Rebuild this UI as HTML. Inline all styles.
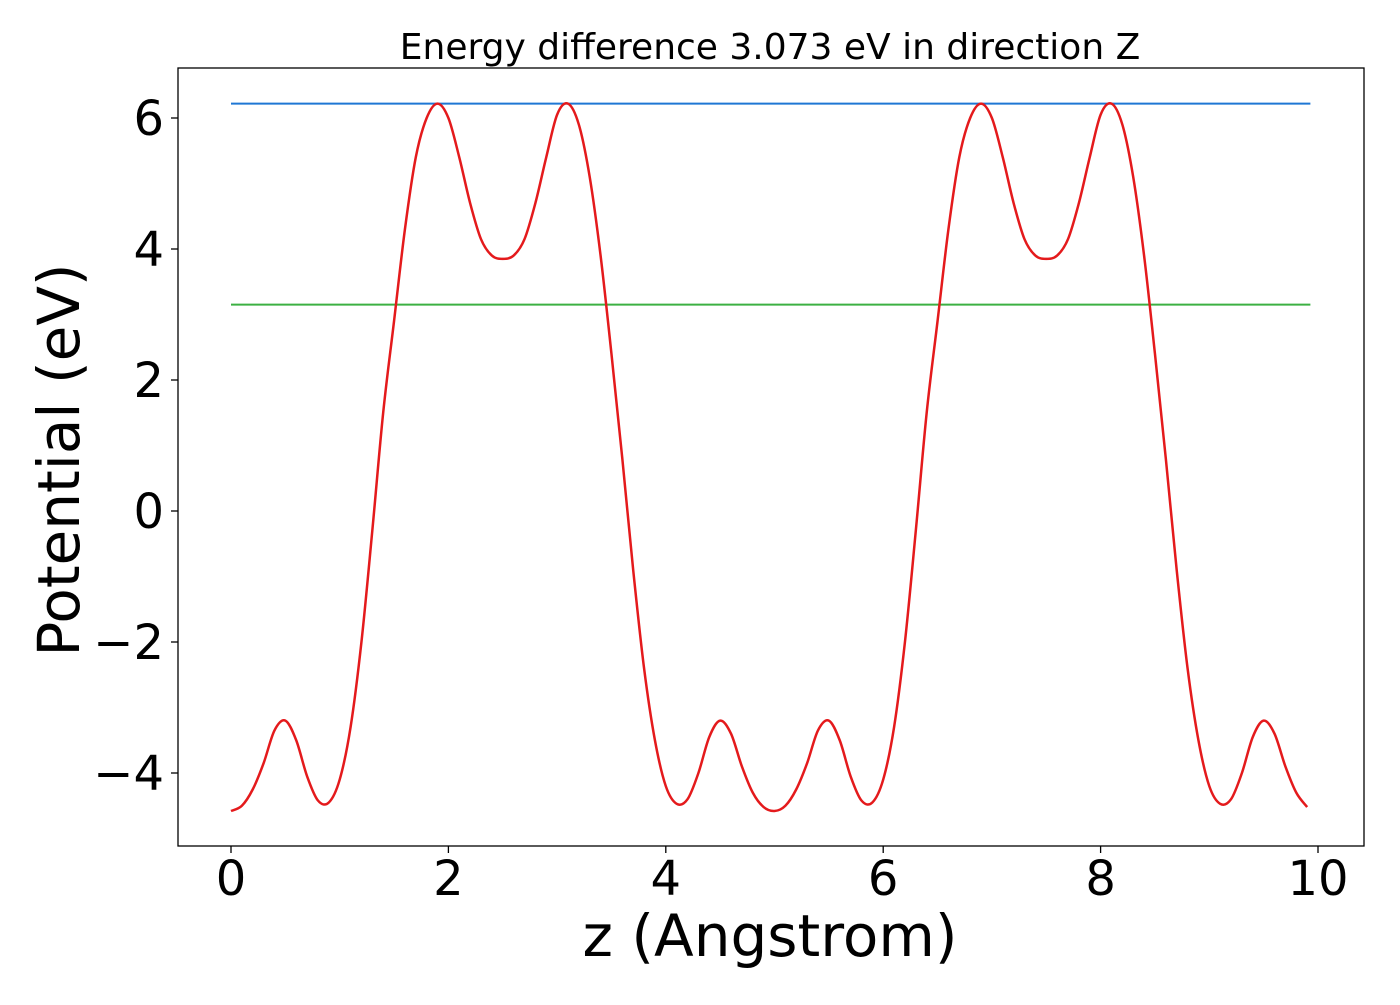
<!DOCTYPE html>
<html><head><meta charset="utf-8"><style>
body{margin:0;background:#fff;}
svg text{font-family:"DejaVu Sans","Liberation Sans",sans-serif;fill:#000;}
</style></head><body>
<svg width="1400" height="1000" id="chart" xmlns="http://www.w3.org/2000/svg">
<text x="770" y="59" font-size="36" text-anchor="middle">Energy difference 3.073 eV in direction Z</text>
<rect x="178" y="68" width="1186" height="778" fill="none" stroke="#000" stroke-width="1.3"/>
<g id="xticks"></g><g id="yticks"></g>
<g id="series"></g>
<text x="770" y="956" font-size="58" text-anchor="middle">z (Angstrom)</text>
<text transform="translate(79,460) rotate(-90)" font-size="58" text-anchor="middle">Potential (eV)</text>
</svg>
<script>
const xTicks=[0,2,4,6,8,10];
const yTicks=[-4,-2,0,2,4,6];
const zValues=[];for(let i=0;i<100;i++)zValues.push(+(i*0.1).toFixed(1));
const potential=[-4.58,-4.5,-4.25,-3.85,-3.35,-3.2,-3.5,-4.05,-4.42,-4.45,-4.1,-3.3,-2.0,-0.3,1.5,2.9,4.3,5.4,6.0,6.22,6.0,5.4,4.7,4.15,3.9,3.85,3.9,4.15,4.7,5.4,6.05,6.22,5.9,5.1,3.9,2.4,0.8,-0.9,-2.4,-3.5,-4.2,-4.47,-4.4,-4.0,-3.45,-3.2,-3.4,-3.9,-4.3,-4.52,
-4.58,-4.5,-4.25,-3.85,-3.35,-3.2,-3.5,-4.05,-4.42,-4.45,-4.1,-3.3,-2.0,-0.3,1.5,2.9,4.3,5.4,6.0,6.22,6.0,5.4,4.7,4.15,3.9,3.85,3.9,4.15,4.7,5.4,6.05,6.22,5.9,5.1,3.9,2.4,0.8,-0.9,-2.4,-3.5,-4.2,-4.47,-4.4,-4.0,-3.45,-3.2,-3.4,-3.9,-4.3,-4.52];
const maxLevel=6.22;
const meanLevel=3.15;
const lineRange=[0,9.93];
const X=v=>231+v*108.7, Y=v=>511-v*65.5;
const NS='http://www.w3.org/2000/svg';
function mk(tag,attrs,parent){const e=document.createElementNS(NS,tag);for(const k in attrs)e.setAttribute(k,attrs[k]);parent.appendChild(e);return e;}
const xg=document.getElementById('xticks'),yg=document.getElementById('yticks'),sg=document.getElementById('series');
xTicks.forEach(t=>{
 const l=mk('line',{x1:X(t),x2:X(t),y1:846,y2:853,stroke:'#000','stroke-width':1.3},xg);
 
 
 const tx=mk('text',{x:X(t),y:895,'font-size':48,'text-anchor':'middle'},xg);tx.textContent=t;
 
 
});
yTicks.forEach(t=>{
 const l=mk('line',{x1:171,x2:178,y1:Y(t),y2:Y(t),stroke:'#000','stroke-width':1.3},yg);
 
 
 const tx=mk('text',{x:164,y:Y(t)+17,'font-size':48,'text-anchor':'end'},yg);tx.textContent=t<0?'\u2212'+(-t):t;
 
 
});
const b=mk('line',{x1:X(lineRange[0]),x2:X(lineRange[1]),y1:Y(maxLevel),y2:Y(maxLevel),stroke:'#1f77d4','stroke-width':2},sg);


const g=mk('line',{x1:X(lineRange[0]),x2:X(lineRange[1]),y1:Y(meanLevel),y2:Y(meanLevel),stroke:'#3cb043','stroke-width':2},sg);


const pts=zValues.map((z,i)=>[X(z),Y(potential[i])]);
let d='M'+pts[0][0]+','+pts[0][1];
for(let i=0;i<pts.length-1;i++){
 const p0=pts[Math.max(0,i-1)],p1=pts[i],p2=pts[i+1],p3=pts[Math.min(pts.length-1,i+2)];
 const c1=[p1[0]+(p2[0]-p0[0])/6,p1[1]+(p2[1]-p0[1])/6],c2=[p2[0]-(p3[0]-p1[0])/6,p2[1]-(p3[1]-p1[1])/6];
 d+=` C${c1[0]},${c1[1]} ${c2[0]},${c2[1]} ${p2[0]},${p2[1]}`;
}
const c=mk('path',{d:d,fill:'none',stroke:'#e41a1c','stroke-width':2.5},sg);


</script>
</body></html>
